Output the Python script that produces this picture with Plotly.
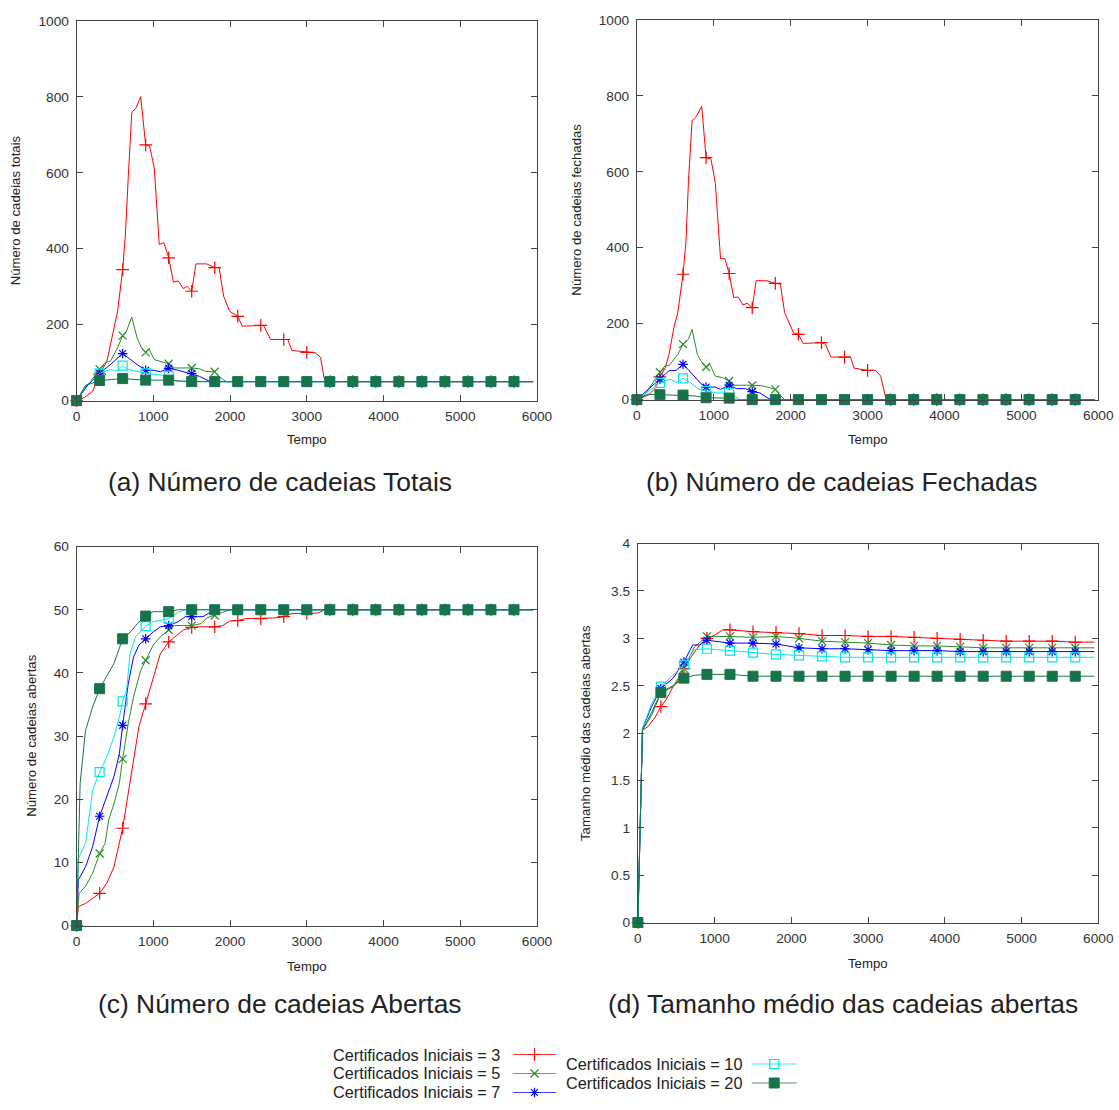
import plotly.graph_objects as go

# ---------------- data (time, value) ----------------
MARK_STEP = 300
MARK_MAX = 5700

NAMES = ["Certificados Iniciais = 3", "Certificados Iniciais = 5",
         "Certificados Iniciais = 7", "Certificados Iniciais = 10",
         "Certificados Iniciais = 20"]

# (a) Numero de cadeias totais
A3 = [(0, 0), (100, 8), (210, 25), (300, 70), (395, 104), (487, 190), (534, 235), (600, 345),
      (636, 437), (673, 587), (719, 758), (775, 771), (835, 800), (900, 673), (951, 670),
      (1012, 613), (1077, 411), (1137, 416), (1200, 376), (1262, 312), (1323, 315), (1392, 295),
      (1438, 301), (1500, 288), (1555, 360), (1694, 360), (1800, 350), (1856, 351), (1916, 275),
      (1995, 235), (2100, 222), (2158, 196), (2400, 198), (2436, 198), (2529, 161), (2700, 161),
      (2752, 161), (2807, 132), (3000, 127), (3109, 126), (3179, 114), (3225, 60), (3250, 50),
      (3300, 50), (3600, 50), (3900, 50), (4200, 50), (4500, 50), (4800, 50), (5100, 50),
      (5400, 50), (5700, 50), (5950, 50)]
A5 = [(0, 0), (116, 33), (300, 83), (371, 100), (441, 104), (534, 139), (600, 171), (650, 183),
      (719, 220), (789, 165), (845, 139), (900, 127), (942, 137), (1012, 108), (1090, 104),
      (1200, 97), (1276, 86), (1500, 86), (1601, 84), (1684, 77), (1800, 76), (1880, 60),
      (1949, 50), (2100, 50), (2400, 50), (2700, 50), (3000, 50), (3300, 50), (3600, 50),
      (3900, 50), (4200, 50), (4500, 50), (4800, 50), (5100, 50), (5400, 50), (5700, 50), (5950, 50)]
A7 = [(0, 0), (116, 35), (300, 72), (441, 95), (600, 124), (673, 112), (789, 95), (900, 80),
      (1000, 80), (1090, 76), (1200, 85), (1323, 80), (1500, 71), (1600, 64), (1740, 50),
      (1800, 50), (2100, 50), (2400, 50), (2700, 50), (3000, 50), (3300, 50), (3600, 50),
      (3900, 50), (4200, 50), (4500, 50), (4800, 50), (5100, 50), (5400, 50), (5700, 50), (5950, 50)]
A10 = [(0, 0), (116, 38), (300, 72), (441, 82), (534, 78), (600, 92), (673, 82), (858, 73),
       (900, 72), (1200, 65), (1300, 51), (1350, 50), (1500, 50), (1800, 50), (2100, 50),
       (2400, 50), (2700, 50), (3000, 50), (3300, 50), (3600, 50), (3900, 50), (4200, 50),
       (4500, 50), (4800, 50), (5100, 50), (5400, 50), (5700, 50), (5950, 50)]
A20 = [(0, 0), (116, 40), (300, 53), (600, 58), (900, 54), (1200, 54), (1500, 50), (1800, 50),
       (2100, 50), (2400, 50), (2700, 50), (3000, 50), (3300, 50), (3600, 50), (3900, 50),
       (4200, 50), (4500, 50), (4800, 50), (5100, 50), (5400, 50), (5700, 50), (5950, 50)]

# (b) Numero de cadeias fechadas
B3 = [(0, 0), (150, 12), (240, 30), (300, 60), (370, 84), (417, 119), (486, 194), (532, 229),
      (600, 330), (639, 418), (671, 576), (718, 734), (778, 747), (843, 772), (900, 637),
      (963, 633), (1019, 572), (1088, 371), (1144, 371), (1200, 332), (1259, 269), (1319, 270),
      (1380, 249), (1435, 254), (1500, 242), (1551, 313), (1690, 313), (1800, 306), (1866, 304),
      (1921, 229), (2037, 176), (2100, 172), (2162, 148), (2400, 150), (2454, 146), (2523, 112),
      (2700, 112), (2778, 112), (2824, 83), (3000, 77), (3102, 77), (3171, 62), (3241, 0),
      (3300, 0), (3600, 0), (3900, 0), (4200, 0), (4500, 0), (4800, 0), (5100, 0), (5400, 0),
      (5700, 0), (5950, 0)]
B5 = [(0, 0), (93, 10), (300, 72), (370, 90), (417, 89), (532, 119), (600, 146), (671, 159),
      (718, 185), (787, 119), (833, 102), (900, 86), (949, 93), (1019, 62), (1111, 58),
      (1200, 49), (1273, 38), (1500, 38), (1644, 36), (1713, 32), (1800, 27), (1852, 14),
      (1921, 0), (2100, 0), (2400, 0), (2700, 0), (3000, 0), (3300, 0), (3600, 0), (3900, 0),
      (4200, 0), (4500, 0), (4800, 0), (5100, 0), (5400, 0), (5700, 0), (5950, 0)]
B7 = [(0, 0), (300, 54), (417, 76), (509, 77), (600, 93), (718, 68), (833, 42), (900, 33),
      (1019, 33), (1088, 27), (1200, 38), (1296, 29), (1412, 29), (1500, 21), (1597, 18),
      (1736, 0), (1800, 0), (2100, 0), (2400, 0), (2700, 0), (3000, 0), (3300, 0), (3600, 0),
      (3900, 0), (4200, 0), (4500, 0), (4800, 0), (5100, 0), (5400, 0), (5700, 0), (5950, 0)]
B10 = [(0, 0), (300, 44), (370, 49), (440, 54), (509, 45), (600, 56), (694, 45), (810, 27),
       (900, 23), (1019, 18), (1200, 17), (1296, 5), (1343, 0), (1500, 0), (1800, 0), (2100, 0),
       (2400, 0), (2700, 0), (3000, 0), (3300, 0), (3600, 0), (3900, 0), (4200, 0), (4500, 0),
       (4800, 0), (5100, 0), (5400, 0), (5700, 0), (5950, 0)]
B20 = [(0, 0), (139, 14), (300, 13), (600, 12), (740, 10), (900, 5), (1200, 4), (1296, 0),
       (1500, 0), (1800, 0), (2100, 0), (2400, 0), (2700, 0), (3000, 0), (3300, 0), (3600, 0),
       (3900, 0), (4200, 0), (4500, 0), (4800, 0), (5100, 0), (5400, 0), (5700, 0), (5950, 0)]

# (c) Numero de cadeias abertas
C3 = [(0, 0), (23, 3.0), (116, 3.5), (300, 5.1), (394, 6.7), (487, 9.3), (600, 15.4),
      (673, 20.9), (742, 26.2), (812, 31.5), (900, 35.1), (998, 39.4), (1090, 43.0),
      (1200, 44.9), (1300, 45.9), (1392, 46.8), (1500, 47.2), (1600, 47.3), (1800, 47.3),
      (1903, 47.5), (1995, 48.2), (2100, 48.3), (2204, 48.6), (2400, 48.6), (2575, 48.7),
      (2700, 48.9), (2807, 49.4), (3000, 49.4), (3155, 49.5), (3234, 50), (3300, 50), (3600, 50),
      (3900, 50), (4200, 50), (4500, 50), (4800, 50), (5100, 50), (5400, 50), (5700, 50), (5950, 50)]
C5 = [(0, 0), (32, 5.1), (116, 6.2), (209, 8.3), (300, 11.4), (371, 13.0), (418, 16.7),
      (487, 19.3), (557, 22.5), (600, 26.4), (673, 32.0), (742, 36.2), (835, 40.4), (900, 42.0),
      (998, 44.4), (1090, 45.7), (1200, 46.8), (1276, 47.5), (1500, 47.5), (1624, 47.8),
      (1694, 48.7), (1800, 49.1), (1903, 49.6), (1995, 50), (2100, 50), (2400, 50), (2700, 50),
      (3000, 50), (3300, 50), (3600, 50), (3900, 50), (4200, 50), (4500, 50), (4800, 50),
      (5100, 50), (5400, 50), (5700, 50), (5950, 50)]
C7 = [(0, 0), (23, 7.2), (116, 9.3), (209, 12.5), (300, 17.3), (394, 20.4), (487, 23.6),
      (557, 27.2), (600, 31.7), (673, 38.3), (742, 42.5), (812, 44.4), (900, 45.4), (998, 46.5),
      (1090, 47.3), (1200, 47.5), (1323, 48.1), (1415, 48.9), (1500, 48.9), (1647, 48.9),
      (1740, 49.6), (1800, 50), (2100, 50), (2400, 50), (2700, 50), (3000, 50), (3300, 50),
      (3600, 50), (3900, 50), (4200, 50), (4500, 50), (4800, 50), (5100, 50), (5400, 50),
      (5700, 50), (5950, 50)]
C10 = [(0, 0), (23, 10.6), (116, 13.0), (209, 21.4), (300, 24.3), (394, 26.7), (487, 29.9),
       (557, 33.0), (600, 35.5), (650, 37.2), (696, 43.0), (766, 45.7), (900, 47.4), (998, 48.1),
       (1200, 48.6), (1323, 49.6), (1415, 50), (1500, 50), (1800, 50), (2100, 50), (2400, 50),
       (2700, 50), (3000, 50), (3300, 50), (3600, 50), (3900, 50), (4200, 50), (4500, 50),
       (4800, 50), (5100, 50), (5400, 50), (5700, 50), (5950, 50)]
C20 = [(0, 0), (46, 22.5), (116, 30.9), (209, 34.6), (300, 37.5), (394, 39.4), (487, 41.5),
       (600, 45.4), (719, 46.7), (789, 47.8), (900, 49.0), (998, 49.7), (1200, 49.7), (1323, 50),
       (1500, 50), (1800, 50), (2100, 50), (2400, 50), (2700, 50), (3000, 50), (3300, 50),
       (3600, 50), (3900, 50), (4200, 50), (4500, 50), (4800, 50), (5100, 50), (5400, 50),
       (5700, 50), (5950, 50)]

# (d) Tamanho medio das cadeias abertas
D3 = [(0, 0), (60, 2.03), (134, 2.07), (227, 2.17), (300, 2.28), (366, 2.35), (459, 2.49),
      (528, 2.56), (600, 2.68), (690, 2.80), (806, 2.93), (900, 3.00), (992, 3.03), (1107, 3.09),
      (1200, 3.09), (1500, 3.07), (1800, 3.06), (2100, 3.05), (2400, 3.03), (2700, 3.03),
      (3000, 3.02), (3300, 3.02), (3600, 3.01), (3900, 3.00), (4200, 2.99), (4500, 2.98),
      (4800, 2.97), (5100, 2.97), (5400, 2.97), (5700, 2.96), (5950, 2.96)]
D5 = [(0, 0), (60, 2.03), (180, 2.19), (300, 2.42), (459, 2.49), (600, 2.68), (737, 2.91),
      (900, 3.02), (1015, 3.02), (1200, 3.02), (1500, 3.01), (1800, 3.02), (2100, 3.00),
      (2400, 2.97), (2700, 2.96), (3000, 2.95), (3300, 2.93), (3600, 2.92), (3900, 2.92),
      (4200, 2.91), (4500, 2.90), (4800, 2.90), (5100, 2.90), (5400, 2.90), (5700, 2.90), (5950, 2.90)]
D7 = [(0, 0), (60, 2.05), (180, 2.28), (300, 2.47), (459, 2.58), (600, 2.75), (714, 2.93),
      (806, 2.93), (900, 2.98), (1061, 2.96), (1200, 2.95), (1500, 2.95), (1800, 2.94),
      (2100, 2.90), (2400, 2.89), (2700, 2.89), (3000, 2.88), (3300, 2.87), (3600, 2.87),
      (3900, 2.87), (4200, 2.86), (4500, 2.86), (4800, 2.86), (5100, 2.86), (5400, 2.86),
      (5700, 2.86), (5950, 2.86)]
D10 = [(0, 0), (60, 2.05), (180, 2.31), (300, 2.49), (600, 2.72), (737, 2.88), (900, 2.89),
       (1200, 2.87), (1500, 2.85), (1800, 2.83), (2100, 2.82), (2400, 2.81), (2700, 2.80),
       (3000, 2.80), (3300, 2.80), (3600, 2.80), (3900, 2.80), (4200, 2.80), (4500, 2.80),
       (4800, 2.80), (5100, 2.80), (5400, 2.80), (5700, 2.80), (5950, 2.80)]
D20 = [(0, 0), (60, 2.03), (180, 2.22), (300, 2.43), (459, 2.50), (600, 2.58), (737, 2.61),
       (900, 2.62), (1200, 2.62), (1500, 2.60), (1800, 2.60), (2100, 2.60), (2400, 2.60),
       (2700, 2.60), (3000, 2.60), (3300, 2.60), (3600, 2.60), (3900, 2.60), (4200, 2.60),
       (4500, 2.60), (4800, 2.60), (5100, 2.60), (5400, 2.60), (5700, 2.60), (5950, 2.60)]

X_TICKS = [0, 1000, 2000, 3000, 4000, 5000, 6000]

# ---------------- styles / layout ----------------
W, H = 1119, 1110
# calibration of the captured picture (observed = S * requested + OFF)
SX, OFFX = 0.9834, 4.3
SY, OFFY = 0.9867, 6.27
FS = 1 / 0.985  # font compensation

FONT = "Liberation Sans"
STYLES = [
    dict(color="#ff0000", symbol="cross-thin-open", size=9, lw=1.2),
    dict(color="#2a8c2a", symbol="x-thin-open", size=8, lw=1.2),
    dict(color="#0000ff", symbol="asterisk-open", size=8, lw=1.2),
    dict(color="#00e8e8", symbol="square-open", size=9, lw=1.2),
    dict(color="#17744a", symbol="square", size=10, lw=1),
]

# panel boxes in target pixels: left, right, top, bottom
PANELS = [
    dict(series=[A3, A5, A7, A10, A20], box=(77, 538, 20, 400), yr=(0, 1000), dy=200,
         ytitle="Número de cadeias totais", ytx=16, xty=439,
         cap="(a) Número de cadeias Totais", capx=281, capy=481),
    dict(series=[B3, B5, B7, B10, B20], box=(638, 1100, 19, 399), yr=(0, 1000), dy=200,
         ytitle="Número de cadeias fechadas", ytx=578, xty=439,
         cap="(b) Número de cadeias Fechadas", capx=843, capy=481),
    dict(series=[C3, C5, C7, C10, C20], box=(77, 538, 546, 925), yr=(0, 60), dy=10,
         ytitle="Número de cadeias abertas", ytx=31, xty=966,
         cap="(c) Número de cadeias Abertas", capx=281, capy=1003),
    dict(series=[D3, D5, D7, D10, D20], box=(639, 1100, 543, 922), yr=(0, 4), dy=0.5,
         ytitle="Tamanho médio das cadeias abertas", ytx=586, xty=963,
         cap="(d) Tamanho médio das cadeias abertas", capx=844, capy=1003),
]


def fx(px):
    return ((px - OFFX) / SX) / W


def fy(py):
    return 1 - ((py - OFFY) / SY) / H


def ann(text, x, y, size, angle=0, xanchor="center"):
    return dict(text=text, x=fx(x), y=fy(y), xref="paper", yref="paper", textangle=angle,
                xanchor=xanchor, yanchor="middle", showarrow=False,
                font=dict(family=FONT, size=size * FS, color="#222222"))


fig = go.Figure()
annotations = []
AXCOL = "#444444"

for i, p in enumerate(PANELS):
    n = i + 1
    xa = "x" if n == 1 else f"x{n}"
    ya = "y" if n == 1 else f"y{n}"
    l, r, t, b = p["box"]
    for k, ser in enumerate(p["series"]):
        st = STYLES[k]
        xs = [q[0] for q in ser]
        ys = [q[1] for q in ser]
        fig.add_trace(go.Scatter(x=xs, y=ys, mode="lines", xaxis=xa, yaxis=ya,
                                 line=dict(color=st["color"], width=1),
                                 showlegend=False, hoverinfo="skip", cliponaxis=False))
        mx = [q[0] for q in ser if q[0] % MARK_STEP == 0 and q[0] <= MARK_MAX]
        my = [q[1] for q in ser if q[0] % MARK_STEP == 0 and q[0] <= MARK_MAX]
        fig.add_trace(go.Scatter(x=mx, y=my, mode="markers", xaxis=xa, yaxis=ya,
                                 marker=dict(color=st["color"], symbol=st["symbol"], size=st["size"],
                                             line=dict(color=st["color"], width=st["lw"])),
                                 showlegend=False, cliponaxis=False, name=NAMES[k]))
    axkw = dict(showline=True, linecolor=AXCOL, linewidth=1, mirror="ticks", ticks="inside",
                ticklen=6, tickcolor=AXCOL, tickwidth=1, showgrid=False, zeroline=False,
                tickfont=dict(family=FONT, size=13.5 * FS, color="#333333"))
    fig.update_layout(**{
        ("xaxis" if n == 1 else f"xaxis{n}"): dict(domain=[fx(l), fx(r)], range=[0, 6000],
                                                   tickvals=X_TICKS, anchor=ya,
                                                   ticklabelstandoff=3, **axkw),
        ("yaxis" if n == 1 else f"yaxis{n}"): dict(domain=[fy(b), fy(t)], range=list(p["yr"]),
                                                   dtick=p["dy"], tick0=0, anchor=xa,
                                                   ticklabelstandoff=4, **axkw),
    })
    annotations.append(ann(p["ytitle"], p["ytx"], (t + b) / 2, 13, angle=-90))
    annotations.append(ann("Tempo", (l + r) / 2, p["xty"], 13))
    annotations.append(ann(p["cap"], p["capx"], p["capy"], 26))

# ---------------- legend (text, then sample line with marker) ----------------
LEG_ROWS = [(503, 514, 557, 1054), (503, 514, 557, 1073), (503, 514, 557, 1092),
            (745, 753, 798, 1063.5), (745, 753, 798, 1082.5)]
for k, (tx, x0, x1, yy) in enumerate(LEG_ROWS):
    st = STYLES[k]
    annotations.append(ann(NAMES[k], tx, yy, 16, xanchor="right"))
    fig.add_trace(go.Scatter(x=[x0, x1], y=[yy, yy], mode="lines", xaxis="x5", yaxis="y5",
                             line=dict(color=st["color"], width=1.2), opacity=0.75,
                             showlegend=False, hoverinfo="skip"))
    fig.add_trace(go.Scatter(x=[(x0 + x1) / 2], y=[yy], mode="markers", xaxis="x5", yaxis="y5",
                             marker=dict(color=st["color"], symbol=st["symbol"], size=st["size"],
                                         line=dict(color=st["color"], width=st["lw"])),
                             showlegend=False, hoverinfo="skip", cliponaxis=False))

# legend helper axis maps target pixels through the same calibration
fig.update_layout(
    xaxis5=dict(domain=[0, 1], range=[OFFX, OFFX + SX * W], visible=False, anchor="y5"),
    yaxis5=dict(domain=[0, 1], range=[OFFY + SY * H, OFFY], visible=False, anchor="x5"),
    width=W, height=H, margin=dict(l=0, r=0, t=0, b=0),
    paper_bgcolor="white", plot_bgcolor="rgba(0,0,0,0)",
    annotations=annotations, showlegend=False,
    font=dict(family=FONT),
)

fig.write_html(
    "out.html",
    config={"displayModeBar": False},
    post_script=("document.body.style.margin='0';document.body.style.padding='0';"),
)
